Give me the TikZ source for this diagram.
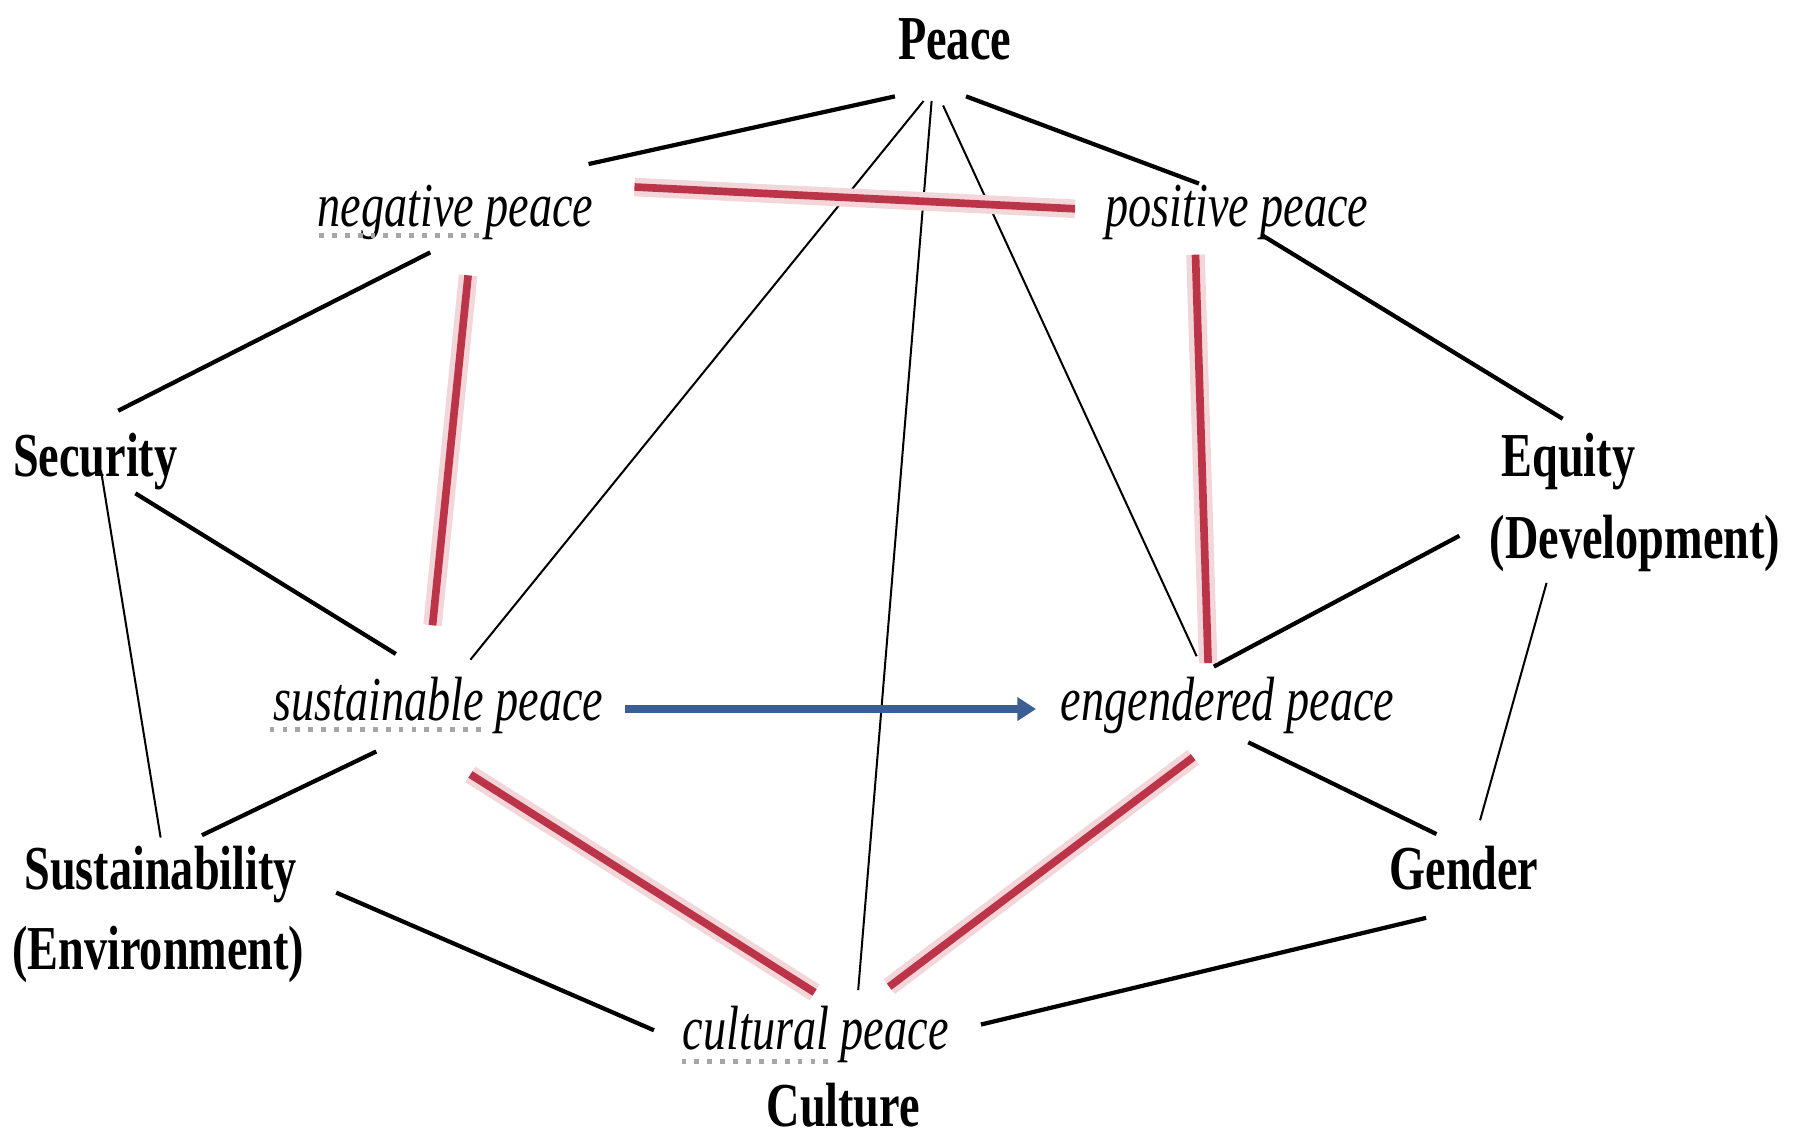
\documentclass[tikz,border=0pt]{standalone}
\usepackage{fontspec}
\setmainfont{Liberation Serif}[FakeStretch=0.74]
\usetikzlibrary{arrows.meta}
\definecolor{tiered}{RGB}{188,52,72}
\definecolor{leadblue}{RGB}{59,94,148}

\begin{document}
\begin{tikzpicture}[
  x=0.1mm, y=-0.1mm,
  >={Triangle[length=4.6pt, width=5.6pt]},
  topic/.style={inner sep=0pt, anchor=base, font=\fontsize{15.5}{18}\selectfont\bfseries},
  kind/.style={inner sep=0pt, anchor=base, font=\fontsize{15.5}{18}\selectfont\itshape},
  link/.style={draw=black, line width=1.05pt},
  fine/.style={draw=black, line width=0.5pt},
  tie/.style={draw=tiered, line width=1.9pt, preaction={draw=tiered!20, line width=4.6pt}},
  lead/.style={->, draw=leadblue, line width=1.8pt},
  squig/.style={draw=black!35, line width=1.2pt, dotted},
]
\useasboundingbox (0,0) rectangle (1568,993);

\node[topic] (peace)   at (832,52)   {Peace};
\node[kind]  (neg)     at (397,197)  {negative peace};
\node[kind]  (pos)     at (1078,197) {positive peace};
\node[topic] (secur)   at (83,415)   {Security};
\node[topic] (equity)  at (1367,415) {Equity};
\node[topic] (develop) at (1425,487) {(Development)};
\node[kind]  (sus)     at (382,628)  {sustainable peace};
\node[kind]  (eng)     at (1070,628) {engendered peace};
\node[topic] (sust)    at (140,775)  {Sustainability};
\node[topic] (environ) at (138,845)  {(Environment)};
\node[topic] (gender)  at (1276,775) {Gender};
\node[kind]  (cul)     at (711,915)  {cultural peace};
\node[topic] (culture) at (735,982)  {Culture};

\draw[squig] ([shift={(-119,8)}]neg.base) -- ([shift={(21,8)}]neg.base);
\draw[squig] ([shift={(-147,8)}]sus.base) -- ([shift={(42,8)}]sus.base);
\draw[squig] ([shift={(-117,10)}]cul.base) -- ([shift={(17,10)}]cul.base);

\draw[link] ([shift={(-52,32)}]peace.base) -- ([shift={(116,-54)}]neg.base);
\draw[link] ([shift={(10,32)}]peace.base)  -- ([shift={(-33,-37)}]pos.base);
\draw[link] ([shift={(22,8)}]pos.base)     -- ([shift={(-5,-50)}]equity.base);
\draw[link] ([shift={(-22,23)}]neg.base)   -- ([shift={(20,-57)}]secur.base);
\draw[link] ([shift={(35,15)}]secur.base)  -- ([shift={(-37,-58)}]sus.base);
\draw[link] ([shift={(-54,27)}]sus.base)   -- ([shift={(36,-47)}]sust.base);
\draw[link] ([shift={(153,3)}]sust.base)   -- ([shift={(-141,-17)}]cul.base);
\draw[link] ([shift={(144,-22)}]cul.base)  -- ([shift={(-33,25)}]gender.base);
\draw[link] ([shift={(18,19)}]eng.base)    -- ([shift={(-24,-48)}]gender.base);
\draw[link] ([shift={(-12,-47)}]eng.base)  -- ([shift={(-153,-20)}]develop.base);

\draw[fine] ([shift={(-27,36)}]peace.base) -- ([shift={(28,-53)}]sus.base);
\draw[fine] ([shift={(-20,36)}]peace.base) -- ([shift={(37,-52)}]cul.base);
\draw[fine] ([shift={(-10,40)}]peace.base) -- ([shift={(-27,-56)}]eng.base);
\draw[fine] ([shift={(5,-5)}]secur.base)   -- ([shift={(0,-45)}]sust.base);
\draw[fine] ([shift={(-77,21)}]develop.base) -- ([shift={(14,-60)}]gender.base);

\draw[tie] ([shift={(156,-34)}]neg.base) -- ([shift={(-141,-15)}]pos.base);
\draw[tie] ([shift={(11,43)}]neg.base)   -- ([shift={(-5,-83)}]sus.base);
\draw[tie] ([shift={(-36,25)}]pos.base)  -- ([shift={(-17,-50)}]eng.base);
\draw[tie] ([shift={(28,47)}]sus.base)   -- ([shift={(-1,-50)}]cul.base);
\draw[tie] ([shift={(-30,32)}]eng.base)  -- ([shift={(64,-55)}]cul.base);

\draw[lead] ([shift={(163,-10)}]sus.base) -- ([shift={(-167,-10)}]eng.base);

\end{tikzpicture}
\end{document}
